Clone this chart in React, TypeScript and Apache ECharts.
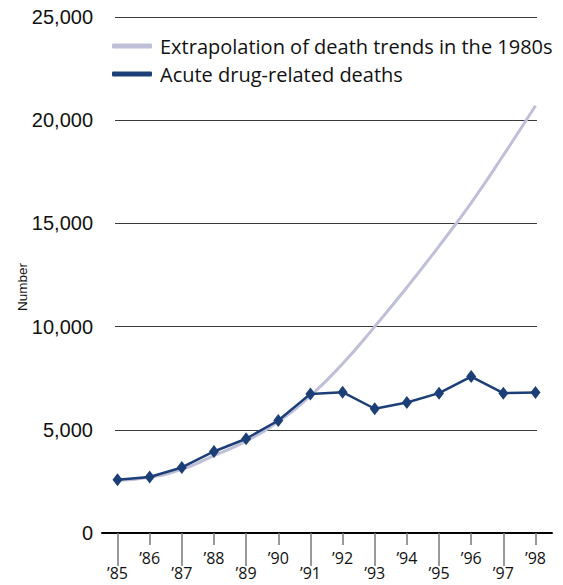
import React, { useEffect, useRef } from "react";
import * as echarts from "echarts";

const years = [1985, 1986, 1987, 1988, 1989, 1990, 1991, 1992, 1993, 1994, 1995, 1996, 1997, 1998];
const acuteDeaths = [2580, 2710, 3175, 3950, 4565, 5450, 6740, 6825, 6020, 6320, 6775, 7580, 6775, 6805];
const extrapolation = [2550, 2700, 3080, 3750, 4450, 5400, 6650, 8200, 10000, 11900, 13900, 16000, 18300, 20700];
const seriesNames = ["Extrapolation of death trends in the 1980s", "Acute drug-related deaths"];
const yAxisTitle = "Number";

export default function App() {
  const ref = useRef<HTMLDivElement>(null);
  useEffect(() => {
    const chart = echarts.init(ref.current!, null, { renderer: "svg" });
    const oddYears = years.filter((y) => y % 2 === 1);
    const evenYears = years.filter((y) => y % 2 === 0);
    const fmt = (v: number) => "\u2019" + String(v).slice(2);
    const tickLabelStyle = { fontFamily: "Open Sans", fontSize: 16, color: "#111", lineHeight: 12 };
    const xMin = 1984.922;
    const xMax = 1998.047;
    chart.setOption({
      animation: false,
      grid: [
        { left: 115, right: 26, top: 17, bottom: 52 },
        { left: 102, right: 11, top: 17, bottom: 52 },
      ],
      legend: {
        orient: "vertical",
        left: 112,
        top: 34,
        padding: 0,
        itemWidth: 40,
        itemHeight: 5,
        itemGap: 4,
        icon: "roundRect",
        textStyle: { fontFamily: "Open Sans", fontSize: 20, color: "#111", lineHeight: 24, padding: [0, 0, 0, 3] },
        data: seriesNames,
      },
      graphic: [
        {
          type: "text",
          x: 22,
          y: 287,
          rotation: Math.PI / 2,
          style: {
            text: yAxisTitle,
            font: '13.5px "Liberation Sans"',
            align: "center",
            verticalAlign: "middle",
            fill: "#111",
          },
        },
      ],
      xAxis: [
        {
          gridIndex: 0,
          type: "value",
          position: "bottom",
          min: xMin,
          max: xMax,
          axisLine: { show: false },
          splitLine: { show: false },
          axisTick: { show: true, customValues: oddYears, length: 33, lineStyle: { color: "#777", width: 1.5 } },
          axisLabel: { customValues: oddYears, formatter: fmt, margin: 34, ...tickLabelStyle },
        },
        {
          gridIndex: 0,
          type: "value",
          position: "bottom",
          min: xMin,
          max: xMax,
          axisLine: { show: false },
          splitLine: { show: false },
          axisTick: { show: true, customValues: evenYears, length: 12, lineStyle: { color: "#777", width: 1.5 } },
          axisLabel: { customValues: evenYears, formatter: fmt, margin: 19, ...tickLabelStyle },
        },
        {
          gridIndex: 1,
          type: "value",
          position: "bottom",
          min: 0,
          max: 1,
          axisLine: { show: true, onZero: false, lineStyle: { color: "#000", width: 2 } },
          axisTick: { show: false },
          axisLabel: { show: false },
          splitLine: { show: false },
        },
      ],
      yAxis: [
        {
          gridIndex: 0,
          type: "value",
          min: 0,
          max: 25000,
          interval: 5000,
          axisLine: { show: false },
          axisTick: { show: false },
          splitLine: { show: true, lineStyle: { color: "#3a3a3a", width: 1 } },
          axisLabel: {
            margin: 22,
            fontFamily: "Liberation Sans",
            fontSize: 20,
            color: "#111",
            formatter: (v: number) => v.toLocaleString("en-US"),
          },
        },
        { gridIndex: 1, type: "value", show: false, min: 0, max: 1 },
      ],
      series: [
        {
          name: seriesNames[0],
          type: "line",
          xAxisIndex: 0,
          yAxisIndex: 0,
          data: years.map((y, i) => [y, extrapolation[i]]),
          smooth: true,
          showSymbol: false,
          symbol: "none",
          lineStyle: { color: "#bfbfd8", width: 3 },
          itemStyle: { color: "#bfbfd8" },
          z: 2,
        },
        {
          name: seriesNames[1],
          type: "line",
          xAxisIndex: 0,
          yAxisIndex: 0,
          data: years.map((y, i) => [y, acuteDeaths[i]]),
          symbol: "diamond",
          symbolSize: [10, 13],
          lineStyle: { color: "#1c3f78", width: 2.5 },
          itemStyle: { color: "#1c3f78" },
          z: 3,
        },
      ],
    });
    return () => chart.dispose();
  }, []);
  return <div ref={ref} style={{ position: "absolute", left: 0, top: 0, width: 563, height: 585 }} />;
}
